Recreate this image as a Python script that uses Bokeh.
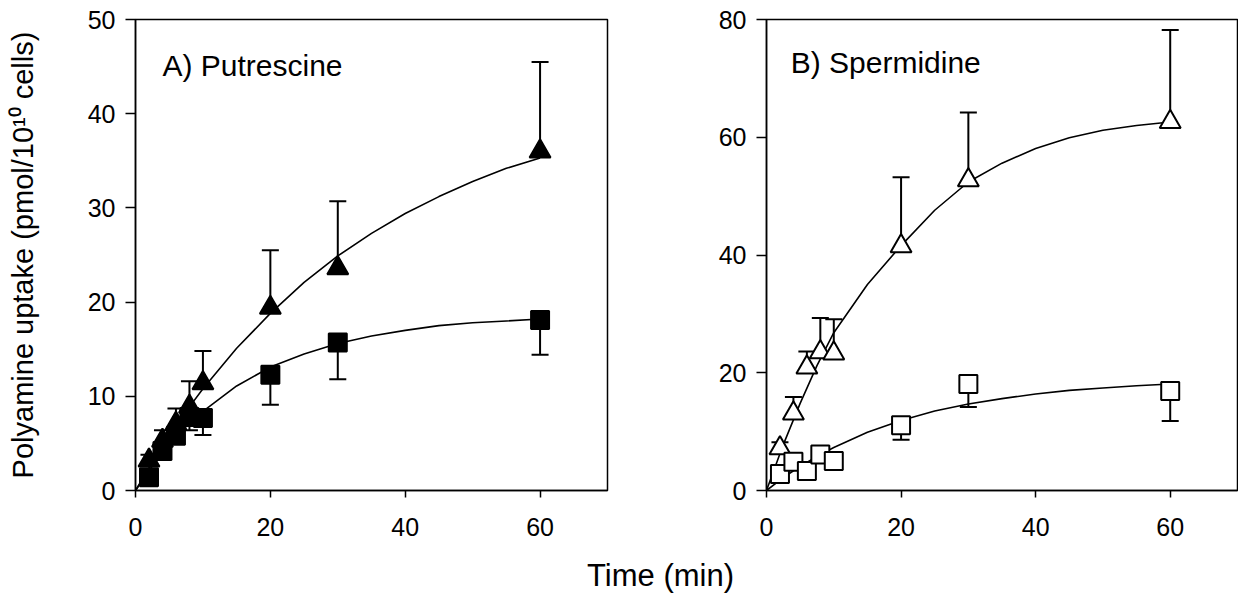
from bokeh.plotting import figure
from bokeh.layouts import column, row
from bokeh.models import Range1d, FixedTicker, Label
from bokeh.embed import file_html
from bokeh.resources import INLINE

# ---------------- data ----------------
time = [2, 4, 6, 8, 10, 20, 30, 60]

# Panel A: Putrescine
put_tri = [3.2, 5.3, 7.1, 8.9, 11.4, 19.4, 23.6, 36.0]
put_tri_err = [0.6, 1.1, 1.6, 2.7, 3.4, 6.1, 7.1, 9.5]
put_sq = [1.4, 4.2, 5.8, 7.8, 7.7, 12.3, 15.7, 18.1]
put_sq_err = [0.5, 0.6, 0.8, 1.4, 1.8, 3.2, 3.9, 3.7]

# Panel B: Spermidine
spd_tri = [7.2, 13.1, 20.9, 23.5, 23.3, 41.5, 52.7, 62.6]
spd_tri_err = [1.0, 2.8, 2.7, 5.8, 5.8, 11.7, 11.5, 15.6]
spd_sq = [2.8, 4.9, 3.3, 6.1, 5.0, 11.1, 18.1, 16.9]
spd_sq_err = [0.6, 0.8, 0.6, 0.8, 0.8, 2.5, 3.9, 5.1]

# fitted curves
fit_time = [0, 2.5, 5, 7.5, 10, 15, 20, 25, 30, 35, 40, 45, 50, 55, 60]
put_tri_fit = [0, 3.0, 5.8, 8.4, 10.8, 15.1, 18.8, 22.1, 24.9, 27.3, 29.4, 31.2, 32.8, 34.2, 35.3]
put_sq_fit = [0, 2.6, 4.8, 6.8, 8.4, 11.1, 13.1, 14.5, 15.6, 16.4, 17.0, 17.5, 17.8, 18.0, 18.2]
spd_tri_fit = [0, 7.8, 14.8, 21.2, 26.8, 35.0, 41.6, 47.6, 52.4, 55.6, 58.1, 59.9, 61.2, 62.0, 62.6]
spd_sq_fit = [0, 2.2, 4.1, 5.8, 7.3, 9.9, 11.9, 13.5, 14.7, 15.6, 16.4, 17.0, 17.4, 17.8, 18.1]

x_ticks = [0, 20, 40, 60]
a_y_ticks = [0, 10, 20, 30, 40, 50]
b_y_ticks = [0, 20, 40, 60, 80]

FONT = "Liberation Sans"


def style(p, yticks):
    p.xgrid.visible = False
    p.ygrid.visible = False
    p.outline_line_color = "black"
    p.outline_line_width = 1.5
    p.background_fill_color = "white"
    p.border_fill_color = "white"
    for ax in p.axis:
        ax.axis_line_width = 1.5
        ax.axis_line_color = "black"
        ax.major_tick_line_width = 1.5
        ax.major_tick_line_color = "black"
        ax.minor_tick_line_color = None
        ax.major_tick_in = 0
        ax.major_label_text_font = FONT
        ax.major_label_text_font_size = "25px"
        ax.major_label_text_color = "black"
        ax.axis_label_text_font = FONT
        ax.axis_label_text_font_style = "normal"
        ax.axis_label_text_color = "black"
    p.xaxis.major_tick_out = 7
    p.yaxis.major_tick_out = 10
    p.xaxis.major_label_standoff = 20
    p.yaxis.major_label_standoff = 10
    p.xaxis.ticker = FixedTicker(ticks=x_ticks)
    p.yaxis.ticker = FixedTicker(ticks=yticks)


def draw(p, tri, tri_err, sq, sq_err, tri_fit, sq_fit, filled):
    tri_top = [v + e for v, e in zip(tri, tri_err)]
    sq_bot = [v - e for v, e in zip(sq, sq_err)]
    p.segment(x0=time, y0=tri, x1=time, y1=tri_top, line_color="black", line_width=2)
    p.scatter(time, tri_top, marker="dash", size=17, line_color="black", line_width=2)
    p.segment(x0=time, y0=sq, x1=time, y1=sq_bot, line_color="black", line_width=2)
    p.scatter(time, sq_bot, marker="dash", size=17, line_color="black", line_width=2)
    p.line(fit_time, tri_fit, line_color="black", line_width=1.6)
    p.line(fit_time, sq_fit, line_color="black", line_width=1.6)
    fill = "black" if filled else "white"
    p.scatter(time, tri, marker="triangle", size=21, fill_color=fill,
              line_color="black", line_width=2)
    p.scatter(time, sq, marker="square", size=18, fill_color=fill,
              line_color="black", line_width=2)


H = 550
pA = figure(width=712, height=H, x_range=Range1d(0, 70), y_range=Range1d(0, 50),
            output_backend="svg", toolbar_location=None,
            min_border_left=135, min_border_right=105, min_border_top=19, min_border_bottom=60)
style(pA, a_y_ticks)
pA.yaxis.axis_label = "Polyamine uptake (pmol/10\u00b9\u2070 cells)"
pA.yaxis.axis_label_text_font_size = "29px"
pA.yaxis.axis_label_standoff = 46
draw(pA, put_tri, put_tri_err, put_sq, put_sq_err, put_tri_fit, put_sq_fit, True)
pA.add_layout(Label(x=4.0, y=45.1, text="A) Putrescine", text_font=FONT,
                    text_font_size="30px", text_color="black", text_baseline="alphabetic"))

pB = figure(width=526, height=H, x_range=Range1d(0, 70), y_range=Range1d(0, 80),
            output_backend="svg", toolbar_location=None,
            min_border_left=54, min_border_right=1, min_border_top=19, min_border_bottom=60)
style(pB, b_y_ticks)
draw(pB, spd_tri, spd_tri_err, spd_sq, spd_sq_err, spd_tri_fit, spd_sq_fit, False)
pB.add_layout(Label(x=3.6, y=72.7, text="B) Spermidine", text_font=FONT,
                    text_font_size="30px", text_color="black", text_baseline="alphabetic"))

pX = figure(width=1238, height=50, x_range=Range1d(0, 1238), y_range=Range1d(0, 50),
            output_backend="svg", toolbar_location=None, min_border=0,
            x_axis_location=None, y_axis_location=None)
pX.grid.visible = False
pX.outline_line_color = None
pX.add_layout(Label(x=660, y=25, text="Time (min)", text_font=FONT, text_font_size="31px",
                    text_color="black", text_align="center", text_baseline="middle"))

layout = column(row(pA, pB), pX)
open("out.html", "w").write(file_html(layout, INLINE))
